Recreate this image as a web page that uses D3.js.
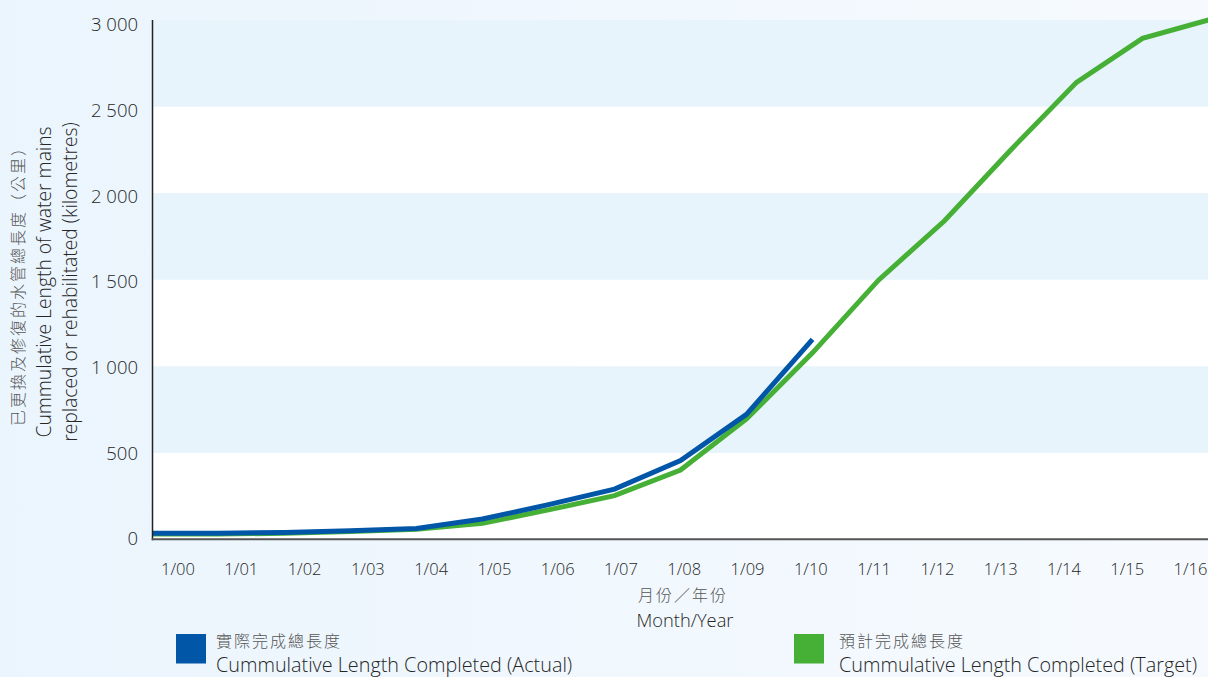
<!DOCTYPE html>
<html>
<head>
<meta charset="utf-8">
<script src="https://cdn.jsdelivr.net/npm/d3@7/dist/d3.min.js"></script>
<style>
  html, body { margin: 0; padding: 0; }
  body { width: 1208px; height: 677px; overflow: hidden; }
  svg { display: block; font-family: "Open Sans", "Noto Sans CJK TC", sans-serif; font-weight: 300; }
</style>
</head>
<body>
<svg id="chart" width="1208" height="677"></svg>
<script>
// Month/year categories along the x axis
const months = ["1/00","1/01","1/02","1/03","1/04","1/05","1/06","1/07","1/08",
                "1/09","1/10","1/11","1/12","1/13","1/14","1/15","1/16"];
// Cumulative length completed (km), actual to date
const actualKm = [35, 35, 40, 50, 63, 117, 200, 290, 455, 722, 1155];
// Cumulative length completed (km), programme target
const targetKm = [30, 30, 35, 45, 58, 92, 170, 252, 400, 695, 1077, 1497, 1840, 2248, 2640, 2894, 3000];
// Value axis ticks
const yTicks = [0, 500, 1000, 1500, 2000, 2500, 3000];
const yTickLabels = ["0", "500", "1 000", "1 500", "2 000", "2 500", "3 000"];

const svg = d3.select("#chart");
const W = 1208, H = 677;
const plotLeft = 152.5, plotRight = 1208.5, plotTop = 20, plotBottom = 539.3;
const latin = "'Open Sans', sans-serif";
const cjk = "'Noto Sans CJK TC', sans-serif";
const ink = "#262626";

// page background
const defs = svg.append("defs");
const grad = defs.append("linearGradient").attr("id", "bg").attr("x1", 0).attr("x2", 1).attr("y1", 0).attr("y2", 0);
grad.append("stop").attr("offset", "0%").attr("stop-color", "#ebf5fd");
grad.append("stop").attr("offset", "100%").attr("stop-color", "#f6fafe");
svg.append("rect").attr("width", W).attr("height", H).attr("fill", "url(#bg)");

const x = d3.scalePoint().domain(months).range([plotLeft, plotRight]);
const xLabel = d3.scalePoint().domain(months).range([177.5, 1190]);
const y = d3.scaleLinear().domain([0, 3000]).range([plotBottom, plotTop]);
const yLabel = d3.scaleLinear().domain([0, 3000]).range([539, 25]);

// alternating horizontal bands
const bands = d3.pairs(yTicks);
svg.append("g").selectAll("rect").data(bands).join("rect")
  .attr("x", plotLeft).attr("width", plotRight - plotLeft)
  .attr("y", d => y(d[1])).attr("height", d => y(d[0]) - y(d[1]))
  .attr("fill", (d, i) => i % 2 === 0 ? "#ffffff" : "#e7f4fc");

// y tick labels
const yAxis = d3.axisLeft(yLabel).tickValues(yTicks).tickSize(0).tickPadding(0)
  .tickFormat((d, i) => yTickLabels[i]);
const gy = svg.append("g").attr("transform", "translate(138,0)").call(yAxis);
gy.select(".domain").remove();
gy.selectAll("text").attr("font-size", 18.5).attr("fill", ink)
  .attr("font-family", latin).attr("font-weight", 300);

// x tick labels
const xAxis = d3.axisBottom(xLabel).tickSize(0).tickPadding(0);
const gx = svg.append("g").attr("transform", "translate(0,563)").call(xAxis);
gx.select(".domain").remove();
gx.selectAll("text").attr("font-size", 16.5).attr("fill", ink)
  .attr("font-family", latin).attr("font-weight", 300);

// series lines
const line = d3.line().x((d, i) => x(months[i])).y(d => y(d));
svg.append("path").datum(targetKm).attr("d", line)
  .attr("fill", "none").attr("stroke", "#45b035").attr("stroke-width", 5)
  .attr("stroke-linejoin", "miter");
svg.append("path").datum(actualKm).attr("d", line)
  .attr("fill", "none").attr("stroke", "#0256a7").attr("stroke-width", 5)
  .attr("stroke-linejoin", "miter");

// axis lines
svg.append("line").attr("x1", plotLeft).attr("x2", plotLeft).attr("y1", plotTop).attr("y2", plotBottom + 1)
  .attr("stroke", "#222").attr("stroke-width", 1.5);
svg.append("line").attr("x1", plotLeft - 0.75).attr("x2", W).attr("y1", plotBottom).attr("y2", plotBottom)
  .attr("stroke", "#555").attr("stroke-width", 2);

// y axis title
const yt = svg.append("g").attr("transform", "translate(0,282) rotate(-90)");
yt.append("text").attr("x", 0).attr("y", 24).attr("text-anchor", "middle")
  .attr("font-size", 16).attr("letter-spacing", 2).attr("fill", "#555").attr("font-family", cjk)
  .text("已更換及修復的水管總長度（公里）");
yt.append("text").attr("x", 0).attr("y", 51).attr("text-anchor", "middle")
  .attr("font-size", 19.3).attr("fill", ink).text("Cummulative Length of water mains");
yt.append("text").attr("x", 0).attr("y", 77).attr("text-anchor", "middle")
  .attr("font-size", 19.3).attr("fill", ink).text("replaced or rehabilitated (kilometres)");

// x axis title
svg.append("text").attr("x", 683).attr("y", 601).attr("text-anchor", "middle")
  .attr("font-size", 16).attr("letter-spacing", 2).attr("fill", "#555").attr("font-family", cjk)
  .text("月份／年份");
svg.append("text").attr("x", 685).attr("y", 627).attr("text-anchor", "middle")
  .attr("font-size", 18.3).attr("fill", ink).text("Month/Year");

// legend
const legendItems = [
  { zh: "實際完成總長度", en: "Cummulative Length Completed (Actual)", color: "#0256a7", x: 176, gap: 40 },
  { zh: "預計完成總長度", en: "Cummulative Length Completed (Target)", color: "#45b035", x: 794, gap: 45 }
];
const lg = svg.append("g").selectAll("g").data(legendItems).join("g")
  .attr("transform", d => `translate(${d.x},634)`);
lg.append("rect").attr("width", 30).attr("height", 29.5).attr("fill", d => d.color);
lg.append("text").attr("x", d => d.gap).attr("y", 13).attr("font-size", 16).attr("letter-spacing", 2)
  .attr("fill", "#555").attr("font-family", cjk).text(d => d.zh);
lg.append("text").attr("x", d => d.gap).attr("y", 38).attr("font-size", 19.8).attr("fill", ink)
  .text(d => d.en);
</script>
</body>
</html>
